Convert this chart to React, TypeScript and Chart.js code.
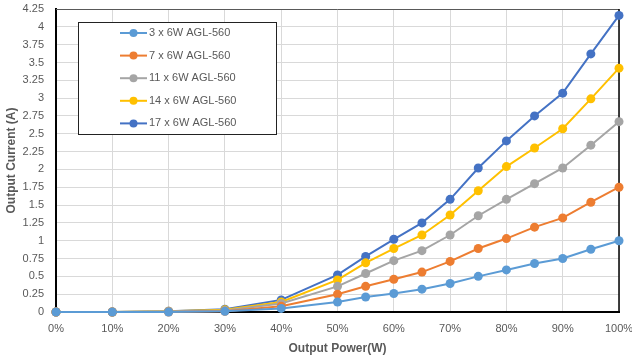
import React, { useEffect, useRef } from "react";
import { Chart, registerables } from "chart.js";

Chart.register(...registerables);

const xValues = [0, 10, 20, 30, 40, 50, 55, 60, 65, 70, 75, 80, 85, 90, 95, 100];
const seriesNames = ["3 x 6W AGL-560", "7 x 6W AGL-560", "11 x 6W AGL-560", "14 x 6W AGL-560", "17 x 6W AGL-560"];
const seriesColors = ["#5B9BD5", "#ED7D31", "#A5A5A5", "#FFC000", "#4472C4"];
const s3 = [0, 0, 0, 0.01, 0.05, 0.14, 0.21, 0.26, 0.32, 0.4, 0.5, 0.59, 0.68, 0.75, 0.88, 1.0];
const s7 = [0, 0, 0, 0.01, 0.08, 0.25, 0.36, 0.46, 0.56, 0.71, 0.89, 1.03, 1.19, 1.32, 1.54, 1.75];
const s11 = [0, 0, 0.01, 0.02, 0.12, 0.36, 0.54, 0.72, 0.86, 1.08, 1.35, 1.58, 1.8, 2.02, 2.34, 2.67];
const s14 = [0, 0, 0.01, 0.03, 0.14, 0.45, 0.69, 0.89, 1.08, 1.36, 1.7, 2.04, 2.3, 2.57, 2.99, 3.42];
const s17 = [0, 0, 0.01, 0.04, 0.17, 0.52, 0.78, 1.02, 1.25, 1.58, 2.02, 2.4, 2.75, 3.07, 3.62, 4.16];
const allSeries = [s3, s7, s11, s14, s17];

const FONT = "Arial, 'Liberation Sans', sans-serif";

const legendPlugin = {
  id: "boxLegend",
  afterDatasetsDraw(chart: any) {
    const ctx = chart.ctx;
    const x0 = 78, y0 = 22, w = 198, h = 112;
    ctx.save();
    ctx.fillStyle = "#ffffff";
    ctx.fillRect(x0, y0, w, h);
    ctx.strokeStyle = "#222222";
    ctx.lineWidth = 1;
    ctx.strokeRect(x0 + 0.5, y0 + 0.5, w, h);
    chart.data.datasets.forEach((ds: any, i: number) => {
      const cy = y0 + 11 + i * 22.6;
      ctx.strokeStyle = ds.borderColor;
      ctx.lineWidth = 2;
      ctx.beginPath();
      ctx.moveTo(120, cy);
      ctx.lineTo(147, cy);
      ctx.stroke();
      ctx.fillStyle = ds.borderColor;
      ctx.beginPath();
      ctx.arc(133.5, cy, 4, 0, Math.PI * 2);
      ctx.fill();
      ctx.fillStyle = "#595959";
      ctx.font = `11px ${FONT}`;
      ctx.textBaseline = "middle";
      ctx.textAlign = "left";
      ctx.fillText(ds.label, 149, cy);
    });
    ctx.restore();
  },
  beforeDatasetsDraw(chart: any) {
    const { ctx, chartArea } = chart;
    ctx.save();
    ctx.strokeStyle = "#595959";
    ctx.lineWidth = 1;
    ctx.beginPath();
    ctx.moveTo(chartArea.left, chartArea.top + 0.5);
    ctx.lineTo(chartArea.right, chartArea.top + 0.5);
    ctx.stroke();
    ctx.strokeStyle = "#000000";
    ctx.lineWidth = 1.5;
    ctx.beginPath();
    ctx.moveTo(chartArea.right, chartArea.top);
    ctx.lineTo(chartArea.right, chartArea.bottom);
    ctx.stroke();
    ctx.restore();
  },
};

const zeroPad = (s: any) => {
  s.paddingTop = 0;
  s.paddingBottom = 0;
  s.paddingLeft = 0;
  s.paddingRight = 0;
};

export default function App() {
  const ref = useRef<HTMLCanvasElement>(null);
  useEffect(() => {
    document.body.style.margin = "0";
    const canvas = ref.current!;
    const chart = new Chart(canvas, {
      type: "line",
      data: {
        datasets: allSeries.map((s, i) => ({
          label: seriesNames[i],
          data: s.map((v, j) => ({ x: xValues[j], y: v })),
          borderColor: seriesColors[i],
          backgroundColor: seriesColors[i],
          borderWidth: 2,
          pointRadius: 4.5,
          pointHoverRadius: 4.5,
          pointBorderWidth: 0,
          tension: 0,
          clip: false,
        })),
      },
      options: {
        animation: false,
        responsive: false,
        maintainAspectRatio: false,
        layout: { padding: { top: 9, right: 13, left: 0, bottom: 0 } },
        plugins: { legend: { display: false }, tooltip: { enabled: false } },
        scales: {
          x: {
            type: "linear",
            min: 0,
            max: 100,
            afterFit: (s: any) => { s.height = 48; zeroPad(s); },
            ticks: {
              stepSize: 10,
              padding: 10,
              color: "#595959",
              font: { size: 11, family: FONT },
              callback: (v: any) => `${v}%`,
              maxRotation: 0,
            },
            grid: { color: "#d9d9d9", drawTicks: false, lineWidth: 1 },
            border: { color: "#000000", width: 2 },
            title: {
              display: true,
              text: "Output Power(W)",
              color: "#595959",
              font: { size: 12, weight: "bold", family: FONT },
              padding: { top: 4, bottom: 4 },
            },
          },
          y: {
            type: "linear",
            min: 0,
            max: 4.25,
            afterFit: (s: any) => { s.width = 56; zeroPad(s); },
            ticks: {
              stepSize: 0.25,
              padding: 12,
              color: "#595959",
              font: { size: 11, family: FONT },
              callback: (v: any) => String(Math.round(Number(v) * 100) / 100),
            },
            grid: { color: "#d9d9d9", drawTicks: false, lineWidth: 1 },
            border: { color: "#000000", width: 2 },
            title: {
              display: true,
              text: "Output Current (A)",
              color: "#595959",
              font: { size: 12, weight: "bold", family: FONT },
              padding: { top: 4, bottom: 4 },
            },
          },
        },
      },
      plugins: [legendPlugin],
    } as any);
    return () => chart.destroy();
  }, []);
  return (
    <div style={{ width: 632, height: 360 }}>
      <canvas ref={ref} width={632} height={360} style={{ display: "block", width: 632, height: 360 }} />
    </div>
  );
}
